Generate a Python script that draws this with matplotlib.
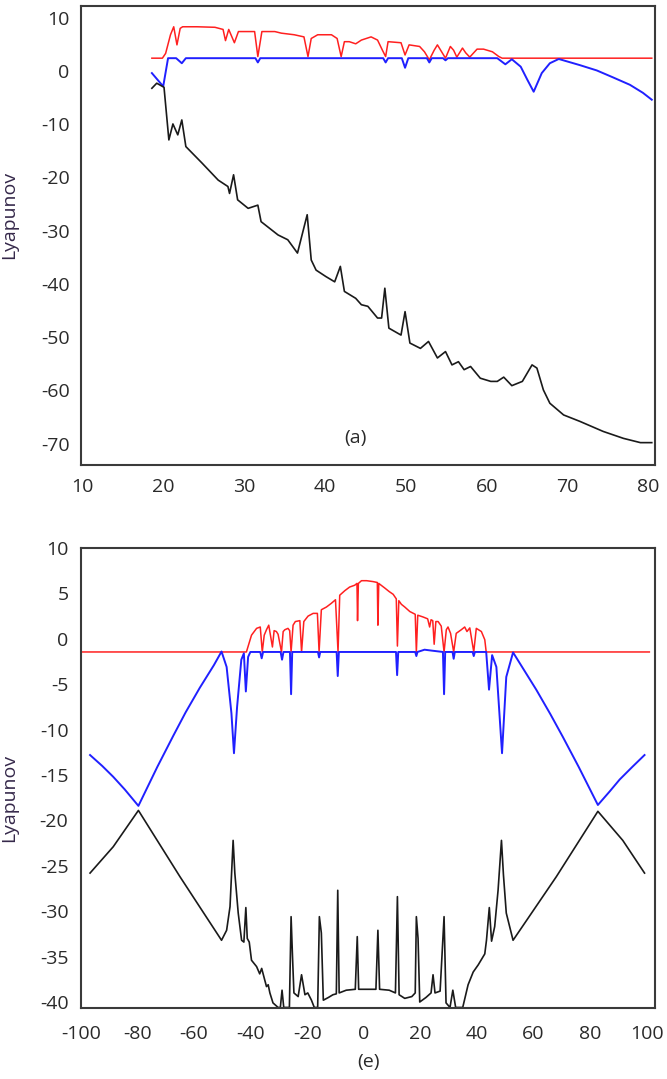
import matplotlib
matplotlib.use('Agg')
import matplotlib.pyplot as plt

plt.rcParams['font.family'] = ['Open Sans', 'DejaVu Sans']
plt.rcParams['axes.unicode_minus'] = False

# ---------------- panel (a) data ----------------
a_red_x = [18.6, 19.9, 20.3, 20.9, 21.3, 21.7, 22.1, 22.4, 24.2, 26.4, 27.4, 27.7, 28.1, 28.8, 29.3,
           31.3, 31.7, 32.2, 33.8, 34.6, 36.2, 37.4, 37.9, 38.3, 39.1, 40.8, 41.5, 42.0, 42.4, 43.0,
           43.8, 44.5, 45.7, 46.5, 47.1, 47.5, 47.8, 49.4, 49.9, 50.4, 51.7, 52.3, 52.9, 53.5, 53.9,
           54.3, 54.9, 55.5, 55.9, 56.3, 57.0, 57.4, 57.9, 58.8, 59.6, 60.7, 61.5, 61.9, 80.4]
a_red_y = [2.4, 2.4, 3.3, 6.8, 8.3, 4.9, 8.0, 8.3, 8.3, 8.2, 7.8, 5.7, 7.8, 5.3, 7.4,
           7.4, 2.7, 7.4, 7.4, 7.1, 6.8, 6.4, 2.7, 6.1, 6.8, 6.8, 6.1, 2.7, 5.5, 5.5,
           5.1, 5.8, 6.4, 5.8, 3.9, 2.7, 5.5, 5.3, 3.0, 4.9, 4.6, 3.6, 2.1, 3.9, 4.9,
           3.9, 2.4, 4.6, 3.9, 2.6, 4.3, 3.4, 2.6, 4.1, 4.1, 3.6, 2.7, 2.4, 2.4]

a_blue_x = [18.6, 20.0, 20.6, 21.6, 22.3, 22.8, 31.4, 31.7, 32.0, 47.2, 47.5, 47.8, 49.5, 49.9,
            50.3, 52.6, 52.9, 53.2, 54.6, 54.9, 55.2, 61.3, 62.3, 63.1, 64.2, 65.0, 65.8, 66.8,
            67.8, 68.9, 71.5, 73.6, 75.6, 77.7, 79.3, 80.4]
a_blue_y = [-0.4, -2.9, 2.4, 2.4, 1.45, 2.4, 2.4, 1.6, 2.4, 2.4, 1.6, 2.4, 2.4, 0.6,
            2.4, 2.4, 1.6, 2.4, 2.4, 2.0, 2.4, 2.4, 1.25, 2.2, 0.8, -1.6, -3.9, -0.4,
            1.45, 2.25, 1.1, 0.1, -1.2, -2.6, -4.1, -5.4]

a_black_x = [18.6, 19.2, 20.1, 20.7, 21.2, 21.8, 22.3, 22.8, 24.8, 26.8, 28.0, 28.2, 28.7, 29.2,
             30.5, 31.7, 32.1, 34.2, 35.4, 36.6, 37.8, 38.3, 38.9, 40.1, 41.2, 41.9, 42.4, 43.8,
             44.5, 45.3, 46.5, 47.0, 47.4, 47.9, 49.4, 49.9, 50.5, 51.8, 52.8, 53.9, 54.9, 55.7,
             56.5, 57.2, 58.0, 59.2, 60.5, 61.3, 62.1, 63.1, 64.4, 65.6, 66.2, 67.0, 67.8, 69.5,
             71.5, 74.4, 76.9, 79.0, 80.4]
a_black_y = [-3.25, -2.3, -3.06, -12.95, -9.95, -12.0, -9.2, -14.2, -17.3, -20.5, -21.7, -23.0, -19.5, -24.2,
             -25.8, -25.2, -28.3, -30.8, -31.7, -34.2, -27.0, -35.5, -37.4, -38.6, -39.6, -36.7, -41.4, -42.7,
             -43.9, -44.2, -46.4, -46.4, -40.8, -48.3, -49.6, -45.2, -51.1, -52.1, -50.8, -53.9, -52.7, -55.2,
             -54.6, -56.1, -55.5, -57.7, -58.3, -58.3, -57.5, -59.1, -58.3, -55.2, -55.8, -59.9, -62.4, -64.6,
             -65.8, -67.7, -69.0, -69.8, -69.8]

a_xticks = [10, 20, 30, 40, 50, 60, 70, 80]
a_yticks = [10, 0, -10, -20, -30, -40, -50, -60, -70]

# ---------------- panel (e) data ----------------
e_red_x = [-100, -41.5, -39.7, -37.9, -36.6, -35.9, -35.2, -34.4, -33.6, -32.3, -31.7, -30.9, -30.3,
           -29.1, -28.5, -27.9, -26.8, -26.2, -25.7, -25.0, -24.2, -22.6, -22.0, -21.2, -19.7, -17.9,
           -16.4, -15.8, -15.0, -13.2, -11.5, -10.0, -9.1, -8.5, -6.7, -5.0, -3.2, -2.4, -2.2, -1.9,
           -0.8, 1.0, 3.3, 4.8, 5.0, 5.3, 7.4, 9.0, 10.4, 11.5, 11.9, 12.4, 13.3, 14.5, 16.3, 18.2,
           18.6, 19.1, 21.0, 22.6, 23.3, 23.8, 24.4, 24.9, 25.5, 26.3, 27.4, 28.4, 29.2, 29.8, 30.7,
           31.8, 32.7, 34.5, 35.7, 36.5, 37.5, 38.9, 39.8, 41.6, 42.8, 43.3, 101]
e_red_y = [-1.45, -1.45, 0.4, 1.15, 1.3, -1.45, 0.4, 1.0, 1.5, -0.9, 0.9, 0.8, 0.5,
           -1.45, 0.8, 1.0, 1.15, 0.9, -1.45, 1.5, 1.9, 2.0, -1.45, 1.9, 2.5, 2.8,
           2.8, -1.45, 3.2, 3.5, 3.9, 4.3, -1.45, 4.8, 5.3, 5.7, 5.9, 6.1, 2.0, 6.1,
           6.4, 6.4, 6.3, 6.2, 1.5, 6.1, 5.6, 5.2, 4.9, 4.4, -0.8, 4.2, 3.8, 3.5, 3.0, 2.7,
           -1.45, 2.6, 2.4, 2.2, 1.3, 2.1, 2.0, -0.6, 1.9, 1.9, 1.4, -1.45, 1.0, 1.3, 0.6,
           -1.45, 0.6, 1.0, 1.3, 0.8, 1.2, -1.45, 1.15, 0.8, -0.1, -1.45, -1.45]

e_blue_x = [-96.8, -92.5, -88.6, -84.5, -79.7, -73.0, -67.4, -63.0, -58.0, -53.0, -50.3, -48.5, -46.8,
            -45.9, -44.8, -43.3, -42.4, -41.7, -40.9,
            -40.1, -36.6, -36.1, -35.6, -29.4, -28.9, -28.4, -26.1, -25.7, -25.3, -16.2, -15.8, -15.4,
            -9.6, -9.2, -8.8, 11.4, 11.8, 12.2, 18.2, 18.6, 19.0, 21.5, 24.0, 28.0, 28.4, 28.8, 31.4,
            31.8, 32.2, 38.5, 38.9, 39.3, 43.3, 44.3, 45.4, 46.9, 48.9, 50.4, 52.8, 56.0, 61.0, 66.0,
            70.4, 76.0, 82.8, 87.0, 90.5, 95.0, 99.3]
e_blue_y = [-12.8, -14.0, -15.2, -16.6, -18.4, -14.1, -10.7, -8.1, -5.4, -2.9, -1.4, -3.1, -8.2,
            -12.6, -7.5, -2.3, -1.6, -5.8, -2.0,
            -1.45, -1.45, -2.15, -1.45, -1.45, -2.3, -1.45, -1.45, -6.1, -1.45, -1.45, -2.05, -1.45,
            -1.45, -4.1, -1.45, -1.45, -4.0, -1.45, -1.45, -1.9, -1.45, -1.2, -1.3, -1.45, -6.1, -1.45, -1.45,
            -2.2, -1.45, -1.45, -1.9, -1.45, -1.45, -5.6, -1.8, -3.1, -12.6, -4.2, -1.5, -3.1, -5.6, -8.3,
            -10.8, -14.1, -18.3, -16.8, -15.5, -14.1, -12.8]

e_black_x = [-96.8, -88.6, -79.7, -65.0, -50.3, -48.5, -47.3, -46.2, -45.6, -44.4, -43.2, -42.4, -41.7,
             -41.2, -40.5, -39.7, -37.9, -36.8, -36.1, -35.0, -34.4, -33.8, -33.2, -32.1, -30.3, -29.5,
             -28.9, -28.3, -26.3, -25.7, -25.2, -24.7, -23.2, -22.0, -20.8, -19.8, -18.5, -17.5, -16.3,
             -15.7, -15.0, -14.3, -12.5, -10.9, -9.7, -9.2, -8.7, -6.2, -3.0, -2.3, -1.8, 1.0, 4.3, 5.0,
             5.6, 9.0, 11.2, 11.9, 12.5, 14.5, 17.0, 18.2, 18.6, 19.2, 19.8, 22.0, 23.8, 24.5, 25.2, 27.0,
             28.4, 29.1, 30.5, 31.5, 32.5, 35.0, 36.9, 38.7, 40.5, 42.8, 43.4, 44.4, 45.2, 46.3, 47.5,
             48.7, 49.4, 50.4, 52.8, 68.1, 82.8, 91.6, 99.3]
e_black_y = [-25.8, -22.9, -18.9, -26.2, -33.2, -32.1, -29.5, -22.2, -25.8, -30.2, -33.2, -33.4, -29.6,
             -33.0, -33.4, -35.4, -36.1, -36.9, -36.3, -37.6, -38.3, -38.1, -39.0, -40.1, -40.6, -40.6,
             -38.7, -40.6, -40.6, -30.6, -35.0, -39.0, -39.4, -37.0, -39.2, -39.0, -39.8, -40.6, -40.6,
             -30.6, -32.4, -39.8, -39.5, -39.2, -39.1, -27.7, -39.0, -38.7, -38.6, -32.8, -38.6, -38.6, -38.6, -32.1,
             -38.6, -38.7, -39.0, -28.4, -39.2, -39.6, -39.4, -39.0, -30.6, -33.0, -40.0, -39.5, -39.0, -37.0, -39.0, -38.8,
             -30.6, -40.1, -40.6, -38.7, -40.6, -40.6, -38.1, -36.7, -35.9, -34.7, -33.2, -29.6, -33.3, -31.7, -27.7,
             -22.2, -26.0, -30.2, -33.2, -26.2, -19.0, -22.2, -25.8]

e_xticks = [-100, -80, -60, -40, -20, 0, 20, 40, 60, 80, 100]
e_yticks = [10, 5, 0, -5, -10, -15, -20, -25, -30, -35, -40]

# ---------------- figure ----------------
W, H = 667, 1079
fig = plt.figure(figsize=(W / 100, H / 100), dpi=100)


def rect(l, t, r, b):
    return [l / W, 1 - b / H, (r - l) / W, (b - t) / H]


ax1 = fig.add_axes(rect(80.7, 6, 655, 465))
ax2 = fig.add_axes(rect(81, 548, 655, 1008))

RED = '#ff2020'
BLUE = '#2020ff'
BLACK = '#1a1a1a'
TXT = '#2a2a2a'

ax1.plot(a_red_x, a_red_y, color=RED, lw=1.1)
ax1.plot(a_blue_x, a_blue_y, color=BLUE, lw=1.4)
ax1.plot(a_black_x, a_black_y, color=BLACK, lw=1.2)
ax1.set_xlim(9.8, 80.8)
ax1.set_ylim(-74, 12.2)
ax1.set_xticks(a_xticks)
ax1.set_yticks(a_yticks)
ax1.text(43.8, -68.9, '(a)', fontsize=14, color=TXT, ha='center', va='center')

ax2.plot(e_red_x, e_red_y, color=RED, lw=1.1)
ax2.plot(e_blue_x, e_blue_y, color=BLUE, lw=1.4)
ax2.plot(e_black_x, e_black_y, color=BLACK, lw=1.2)
ax2.set_xlim(-100, 103)
ax2.set_ylim(-40.66, 10.0)
ax2.set_xticks(e_xticks)
ax2.set_yticks(e_yticks)
fig.text(368 / W, 1 - 1062 / H, '(e)', fontsize=14, color=TXT, ha='center', va='center')

for ax, xpad, ypad in ((ax1, 9, 8), (ax2, 12, 9)):
    ax.tick_params(length=0, labelsize=14, colors=TXT)
    ax.tick_params(axis='x', pad=xpad)
    ax.tick_params(axis='y', pad=ypad)
    for s in ax.spines.values():
        s.set_color('#3a3a3a')
        s.set_linewidth(1.5)
    ax.set_ylabel('Lyapunov', fontsize=14, color='#35284a')

ax1.yaxis.set_label_coords(-0.109, 0.545)
ax2.yaxis.set_label_coords(-0.109, 0.457)

fig.savefig('out.png', dpi=100)
